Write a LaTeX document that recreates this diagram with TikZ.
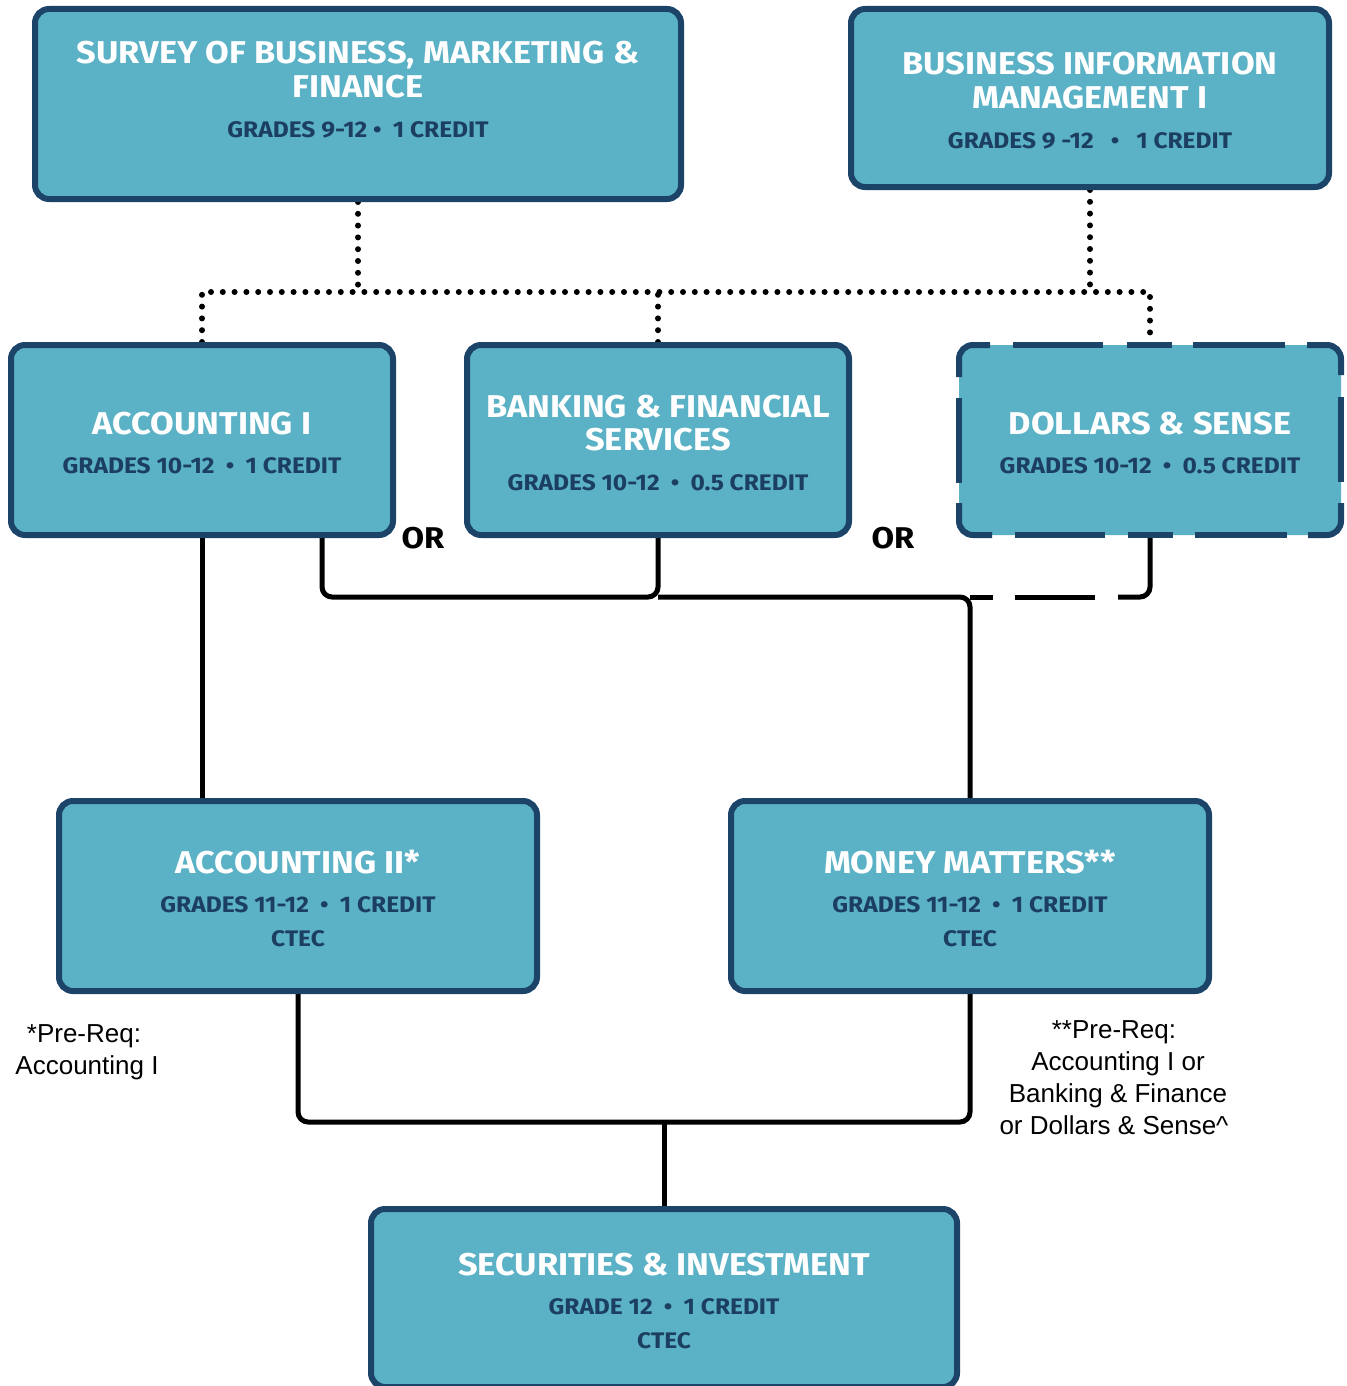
\documentclass[tikz,border=0pt]{standalone}
\usepackage{fontspec}
\setmainfont{Liberation Sans}
\newfontfamily\hdfont{Fira Sans}[FakeStretch=1.09]
\usetikzlibrary{calc}
\definecolor{boxfill}{HTML}{5BB1C5}
\definecolor{boxline}{HTML}{1B4468}
\definecolor{subtext}{HTML}{1C3F61}
\pgfdeclarelayer{bottom}
\pgfdeclarelayer{background}
\pgfsetlayers{bottom,background,main}
\begin{document}
\begin{tikzpicture}[x=1pt,y=-1pt,
  course/.style={draw=boxline, line width=6pt, fill=boxfill, rounded corners=14pt, inner sep=0pt},
  dashborder/.style={draw=boxline, line width=6pt, rounded corners=14pt},
  ttl/.style={anchor=base, text=white, inner sep=0pt, font=\hdfont\bfseries\fontsize{31.5}{34}\selectfont},
  sub/.style={anchor=base, text=subtext, inner sep=0pt, font=\hdfont\bfseries\fontsize{22.5}{24}\selectfont},
  ortext/.style={anchor=base, text=black, inner sep=0pt, font=\hdfont\bfseries\fontsize{30}{32}\selectfont},
  note/.style={anchor=base, text=black, inner sep=0pt, font=\fontsize{26}{32}\selectfont},
  conn/.style={draw=black, line width=5pt, rounded corners=10pt},
  dotline/.style={draw=black, line width=6pt, line cap=round, dash pattern=on 0pt off 11.8pt},
  dashconn/.style={draw=black, line width=5pt, rounded corners=10pt}
]
\useasboundingbox (0,0) rectangle (1346,1386);
\begin{pgfonlayer}{bottom}
\fill[white] (0,0) rectangle (1346,1386);
\end{pgfonlayer}

% boxes
\node[course, minimum width=646pt, minimum height=190pt] (n1) at (358,104) {};
\node[course, minimum width=478pt, minimum height=178pt] (n2) at (1090,98) {};
\node[course, minimum width=382pt, minimum height=190pt] (n3) at (202,440) {};
\node[course, minimum width=382pt, minimum height=190pt] (n4) at (658,440) {};
\node[course, draw=none, minimum width=382pt, minimum height=190pt] (n5) at (1150,440) {};
\begin{scope}[shift={(n5.center)}]
  \draw[dashborder] (-160,-95) -- (-191,-95) -- (-191,-63);
  \draw[dashborder] (-137,-95) -- (-47,-95);
  \draw[dashborder] (-23,-95) -- (22,-95);
  \draw[dashborder] (43,-95) -- (135,-95);
  \draw[dashborder] (157,-95) -- (191,-95) -- (191,-65);
  \draw[dashborder] (191,-43) -- (191,42);
  \draw[dashborder] (191,63) -- (191,95) -- (158,95);
  \draw[dashborder] (-135,95) -- (-45,95);
  \draw[dashborder] (-22,95) -- (23,95);
  \draw[dashborder] (45,95) -- (137,95);
  \draw[dashborder] (-158,95) -- (-191,95) -- (-191,63);
  \draw[dashborder] (-191,-42) -- (-191,43);
\end{scope}
\node[course, minimum width=478pt, minimum height=190pt] (n6) at (298,896) {};
\node[course, minimum width=478pt, minimum height=190pt] (n7) at (970,896) {};
\node[course, minimum width=586pt, minimum height=178pt] (n8) at (664,1298) {};

% texts
\node[ttl] (t1a) at (358,64) {SURVEY OF BUSINESS, MARKETING \&};
\node[ttl] (t1b) at (358,98) {FINANCE};
\node[sub] (s1) at (358,137) {GRADES 9-12 •\enspace 1 CREDIT};

\node[ttl] (t2a) at (1090,75) {BUSINESS INFORMATION};
\node[ttl] (t2b) at (1090,109) {MANAGEMENT I};
\node[sub] (s2) at (1090,148) {GRADES 9 -12\enspace\ •\enspace\ 1 CREDIT};

\node[ttl] (t3) at (202,434) {ACCOUNTING I};
\node[sub] (s3) at (202,473) {GRADES 10-12\enspace•\enspace 1 CREDIT};

\node[ttl] (t4a) at (658,417) {BANKING \& FINANCIAL};
\node[ttl] (t4b) at (658,450) {SERVICES};
\node[sub] (s4) at (658,490) {GRADES 10-12\enspace•\enspace 0.5 CREDIT};

\node[ttl] (t5) at (1150,434) {DOLLARS \& SENSE};
\node[sub] (s5) at (1150,473) {GRADES 10-12\enspace•\enspace 0.5 CREDIT};

\node[ttl] (t6) at (298,873) {ACCOUNTING II*};
\node[sub] (s6) at (298,912) {GRADES 11-12\enspace•\enspace 1 CREDIT};
\node[sub] (c6) at (298,946) {CTEC};

\node[ttl] (t7) at (970,873) {MONEY MATTERS**};
\node[sub] (s7) at (970,912) {GRADES 11-12\enspace•\enspace 1 CREDIT};
\node[sub] (c7) at (970,946) {CTEC};

\node[ttl] (t8) at (664,1275) {SECURITIES \& INVESTMENT};
\node[sub] (s8) at (664,1314) {GRADE 12\enspace•\enspace 1 CREDIT};
\node[sub] (c8) at (664,1348) {CTEC};

\node[ortext] (or1) at (423,548) {OR};
\node[ortext] (or2) at (893,548) {OR};

\node[note] (na) at (84,1042) {*Pre-Req:};
\node[note] (nb) at (87,1074) {Accounting I};
\node[note] (nc) at (1114,1038) {**Pre-Req:};
\node[note] (nd) at (1118,1070) {Accounting I or};
\node[note] (ne) at (1118,1102) {Banking \& Finance};
\node[note] (nf) at (1114,1134) {or Dollars \& Sense\^{}};

% connectors
\coordinate (busY) at (0,292);
\coordinate (midY) at (0,597);
\coordinate (lowY) at (0,1122);
\begin{pgfonlayer}{background}
\draw[dotline] (n1.south) -- (n1.south |- busY);
\draw[dotline] (n2.south) -- (n2.south |- busY);
\draw[dotline] (n3.north) -- (n3.north |- busY) -- (n5.north |- busY) -- (n5.north);
\draw[dotline] (n4.north) -- (n4.north |- busY);
\draw[conn] (n3.south) -- (n3.south |- n6.north);
\draw[conn] ([xshift=120pt]n3.south) |- (n4.south |- midY) -- (n4.south);
\draw[conn] (n4.south |- midY) -| (n7.north);
\draw[dashconn] (n5.south) |- ([xshift=-32pt]n5.south |- midY);
\draw[dashconn] ([xshift=-55pt]n5.south |- midY) -- ([xshift=-135pt]n5.south |- midY);
\draw[dashconn] ([xshift=-157pt]n5.south |- midY) -- (n7.north |- midY);
\draw[conn] (n6.south) |- (n7.south |- lowY) -- (n7.south);
\draw[conn] (n8.north |- lowY) -- (n8.north);
\end{pgfonlayer}
\end{tikzpicture}
\end{document}
